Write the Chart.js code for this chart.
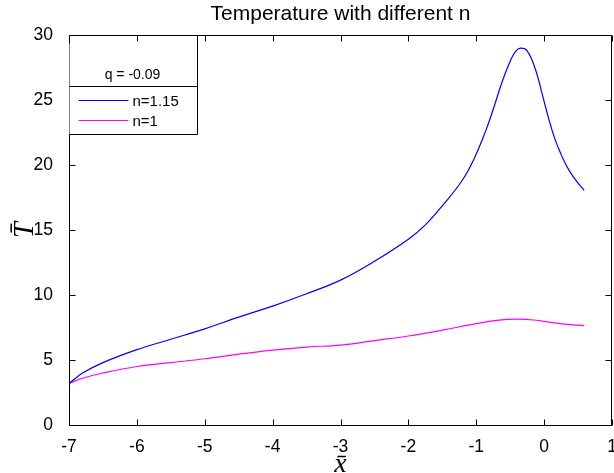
<!DOCTYPE html>
<html>
<head>
<meta charset="utf-8">
<script src="https://cdn.jsdelivr.net/npm/chart.js@4/dist/chart.umd.min.js"></script>
<style>
  html, body { margin: 0; padding: 0; background: #fff; }
  #wrap { width: 614px; height: 473px; }
</style>
</head>
<body>
<div id="wrap"><canvas id="myChart" width="614" height="473"></canvas></div>
<script>
// values
const xBlue = [-7, -6.8, -6.5, -6, -5.5, -5, -4.5, -4, -3.5, -3, -2.5, -2, -1.75, -1.48, -1.21, -1.04, -0.87, -0.75, -0.62, -0.5, -0.42, -0.35, -0.25, -0.13, -0.01, 0.05, 0.11, 0.17, 0.24, 0.31, 0.38, 0.48, 0.59];
const tBlue = [3.2, 4.0, 4.8, 5.8, 6.6, 7.4, 8.3, 9.15, 10.1, 11.15, 12.6, 14.3, 15.4, 17.0, 18.8, 20.4, 22.5, 24.3, 26.4, 28.0, 28.75, 29.0, 28.8, 27.4, 25.1, 23.9, 22.8, 21.85, 20.95, 20.15, 19.5, 18.75, 18.05];

const xMag = [-7, -6.8, -6.5, -6, -5.5, -5, -4.5, -4, -3.5, -3, -2.5, -2, -1.5, -1, -0.7, -0.4, -0.15, 0.1, 0.3, 0.59];
const tMag = [3.2, 3.6, 4.0, 4.5, 4.8, 5.1, 5.45, 5.77, 6.0, 6.15, 6.5, 6.85, 7.3, 7.8, 8.05, 8.15, 8.08, 7.9, 7.77, 7.65];

const seriesNames = ['n=1.15', 'n=1'];
const legendTitle = 'q = -0.09';
const xTicks = [-7, -6, -5, -4, -3, -2, -1, 0, 1];
const yTicks = [0, 5, 10, 15, 20, 25, 30];

const pts = (xs, ys) => xs.map((v, i) => ({x: v, y: ys[i]}));
const sans = '"Liberation Sans", Arial, sans-serif';

// matlab style box, inward ticks and legend
const frame = {
  id: 'frame',
  afterDraw(chart) {
    const {ctx, chartArea: a, scales: {x, y}} = chart;
    const L = Math.round(a.left) + 0.5, R = Math.round(a.right) - 0.5;
    const T = Math.round(a.top) + 0.5, B = Math.round(a.bottom) + 0.5;
    ctx.save();
    ctx.strokeStyle = '#000';
    ctx.lineWidth = 1;
    ctx.beginPath();
    ctx.rect(L, T, R - L, B - T);
    xTicks.forEach(v => {
      const px = Math.round(x.getPixelForValue(v)) + 0.5;
      ctx.moveTo(px, B); ctx.lineTo(px, B - 6);
      ctx.moveTo(px, T); ctx.lineTo(px, T + 6);
    });
    yTicks.forEach(v => {
      const py = Math.round(y.getPixelForValue(v)) + 0.5;
      ctx.moveTo(L, py); ctx.lineTo(L + 6, py);
      ctx.moveTo(R, py); ctx.lineTo(R - 6, py);
    });
    ctx.stroke();

    // legend
    const lw = 128, divY = T + 51, botY = T + 99;
    ctx.fillStyle = '#fff';
    ctx.fillRect(L, T + 8, lw, botY - T - 8);
    ctx.beginPath();
    ctx.moveTo(L + lw, T); ctx.lineTo(L + lw, botY);
    ctx.moveTo(L, divY); ctx.lineTo(L + lw, divY);
    ctx.moveTo(L, botY); ctx.lineTo(L + lw, botY);
    ctx.stroke();
    ctx.fillStyle = '#000';
    ctx.font = '14px ' + sans;
    ctx.textAlign = 'center';
    ctx.textBaseline = 'middle';
    ctx.fillText(legendTitle, L + 63, T + 40);
    ctx.font = '15px ' + sans;
    ctx.textAlign = 'left';
    chart.data.datasets.forEach((ds, i) => {
      const ly = divY + 14 + i * 20;
      ctx.strokeStyle = ds.borderColor;
      ctx.lineWidth = 1.2;
      ctx.beginPath();
      ctx.moveTo(L + 9, ly); ctx.lineTo(L + 59, ly);
      ctx.stroke();
      ctx.fillText(ds.label, L + 63, ly + 1);
    });
    ctx.restore();
  }
};

const ctx = document.getElementById('myChart').getContext('2d');
const myChart = new Chart(ctx, {
  type: 'scatter',
  data: {
    datasets: [{
      label: seriesNames[0],
      data: pts(xBlue, tBlue),
      showLine: true,
      borderColor: '#0000ff',
      borderWidth: 1.2,
      pointRadius: 0,
      tension: 0.4
    }, {
      label: seriesNames[1],
      data: pts(xMag, tMag),
      showLine: true,
      borderColor: '#ff00ff',
      borderWidth: 1.2,
      pointRadius: 0,
      tension: 0.4
    }]
  },
  options: {
    responsive: false,
    animation: false,
    events: [],
    layout: { autoPadding: false, padding: { left: 0, right: 2, top: 0, bottom: 0 } },
    plugins: {
      legend: { display: false },
      tooltip: { enabled: false },
      title: {
        display: true,
        fullSize: false,
        text: 'Temperature with different n',
        color: '#000',
        font: { family: sans, size: 21, weight: 'normal', lineHeight: 1.2 },
        padding: { top: 2, bottom: 8 }
      }
    },
    scales: {
      x: {
        type: 'linear',
        min: -7, max: 1,
        afterBuildTicks: s => { s.ticks = xTicks.map(v => ({value: v})); },
        afterFit: s => { s.height = 48; s.paddingLeft = 0; s.paddingRight = 0; },
        grid: { display: false },
        border: { display: false },
        ticks: { color: '#000', padding: 4, maxRotation: 0, font: { family: sans, size: 17.5 } },
        title: {
          display: true, text: 'x\u0304', color: '#000', padding: 0,
          font: { family: '"Liberation Serif", "DejaVu Serif", serif', size: 28, style: 'italic', lineHeight: 0.62 }
        }
      },
      y: {
        type: 'linear',
        min: 0, max: 30,
        afterBuildTicks: s => { s.ticks = yTicks.map(v => ({value: v})); },
        afterFit: s => { s.width = 69; s.paddingTop = 0; s.paddingBottom = 0; },
        grid: { display: false },
        border: { display: false },
        ticks: { color: '#000', padding: 8, font: { family: sans, size: 17.5 } },
        title: {
          display: true, text: 'T\u0304', color: '#000', padding: { top: 8, bottom: 0 },
          font: { family: '"Liberation Serif", "DejaVu Serif", serif', size: 29, style: 'italic' }
        }
      }
    }
  },
  plugins: [frame]
});
</script>
</body>
</html>
